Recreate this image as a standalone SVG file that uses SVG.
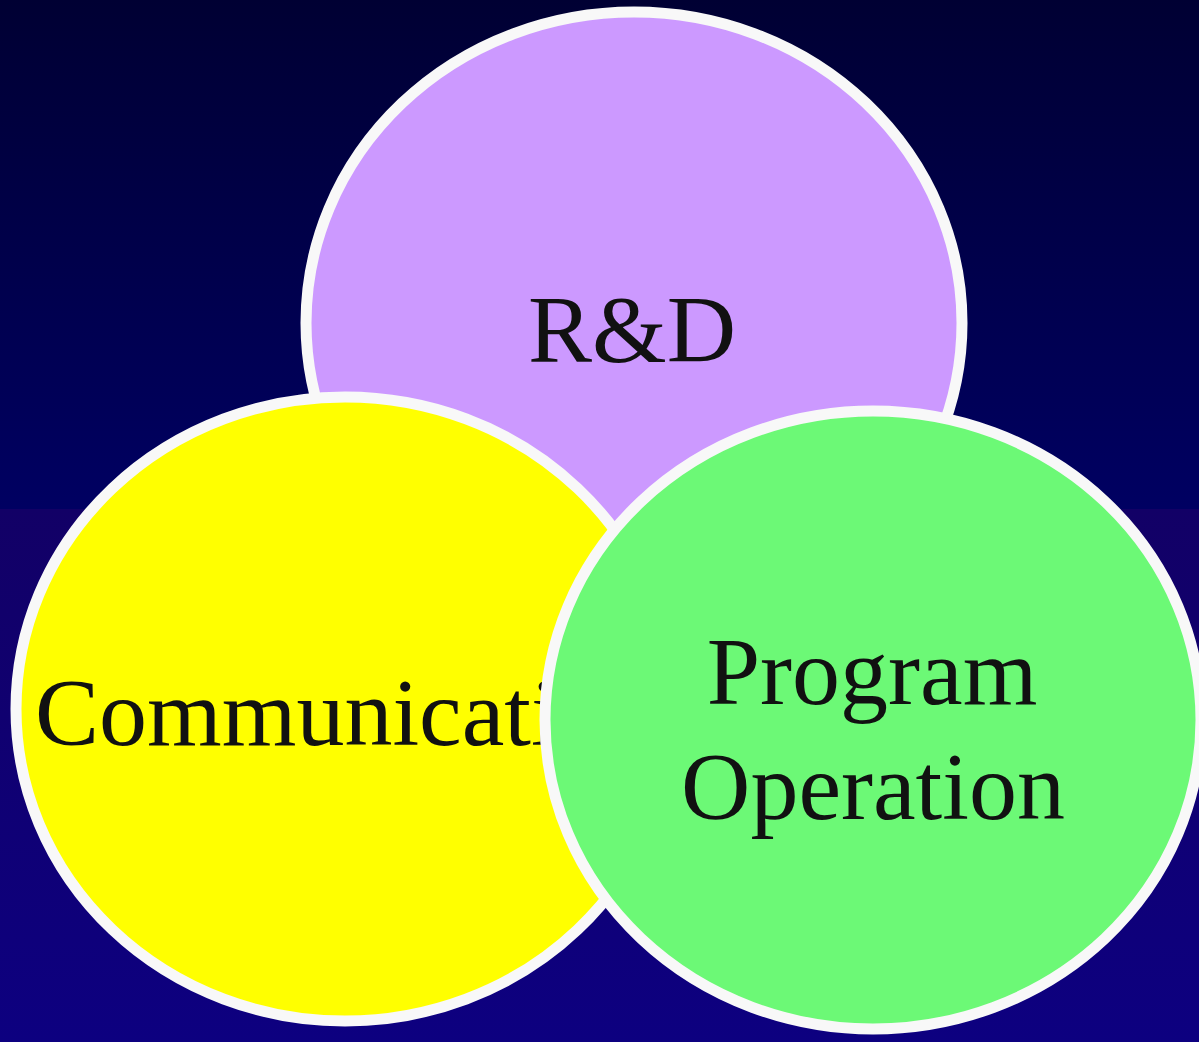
<svg xmlns="http://www.w3.org/2000/svg" width="1199" height="1042" viewBox="0 0 1199 1042">
<defs>
<linearGradient id="bgTop" x1="0" y1="0" x2="0" y2="1">
<stop offset="0" stop-color="#000033"/>
<stop offset="1" stop-color="#000062"/>
</linearGradient>
<linearGradient id="bgBot" x1="0" y1="0" x2="0" y2="1">
<stop offset="0" stop-color="#120066"/>
<stop offset="1" stop-color="#0d0080"/>
</linearGradient>
</defs>
<style>
.c{stroke:#f8f8f8;stroke-width:11}
.t{font-family:"Liberation Serif","Times New Roman",serif;font-size:96px;fill:#111111}
</style>
<rect x="0" y="0" width="1199" height="509" fill="url(#bgTop)"/>
<rect x="0" y="509" width="1199" height="533" fill="url(#bgBot)"/>
<g id="rd">
<ellipse class="c" cx="634" cy="323" rx="328" ry="311" fill="#cc99ff"/>
<text class="t" x="632" y="362" text-anchor="middle">R&amp;D</text>
</g>
<g id="communication">
<ellipse class="c" cx="345" cy="709" rx="329" ry="312" fill="#ffff00"/>
<text class="t" x="35" y="745">Communication</text>
</g>
<g id="program-operation">
<ellipse class="c" cx="873" cy="720" rx="328" ry="309" fill="#6cf976"/>
<text class="t" x="872" y="704" text-anchor="middle">Program</text>
<text class="t" x="873" y="819" text-anchor="middle">Operation</text>
</g>
<g id="connectors"/>
</svg>
